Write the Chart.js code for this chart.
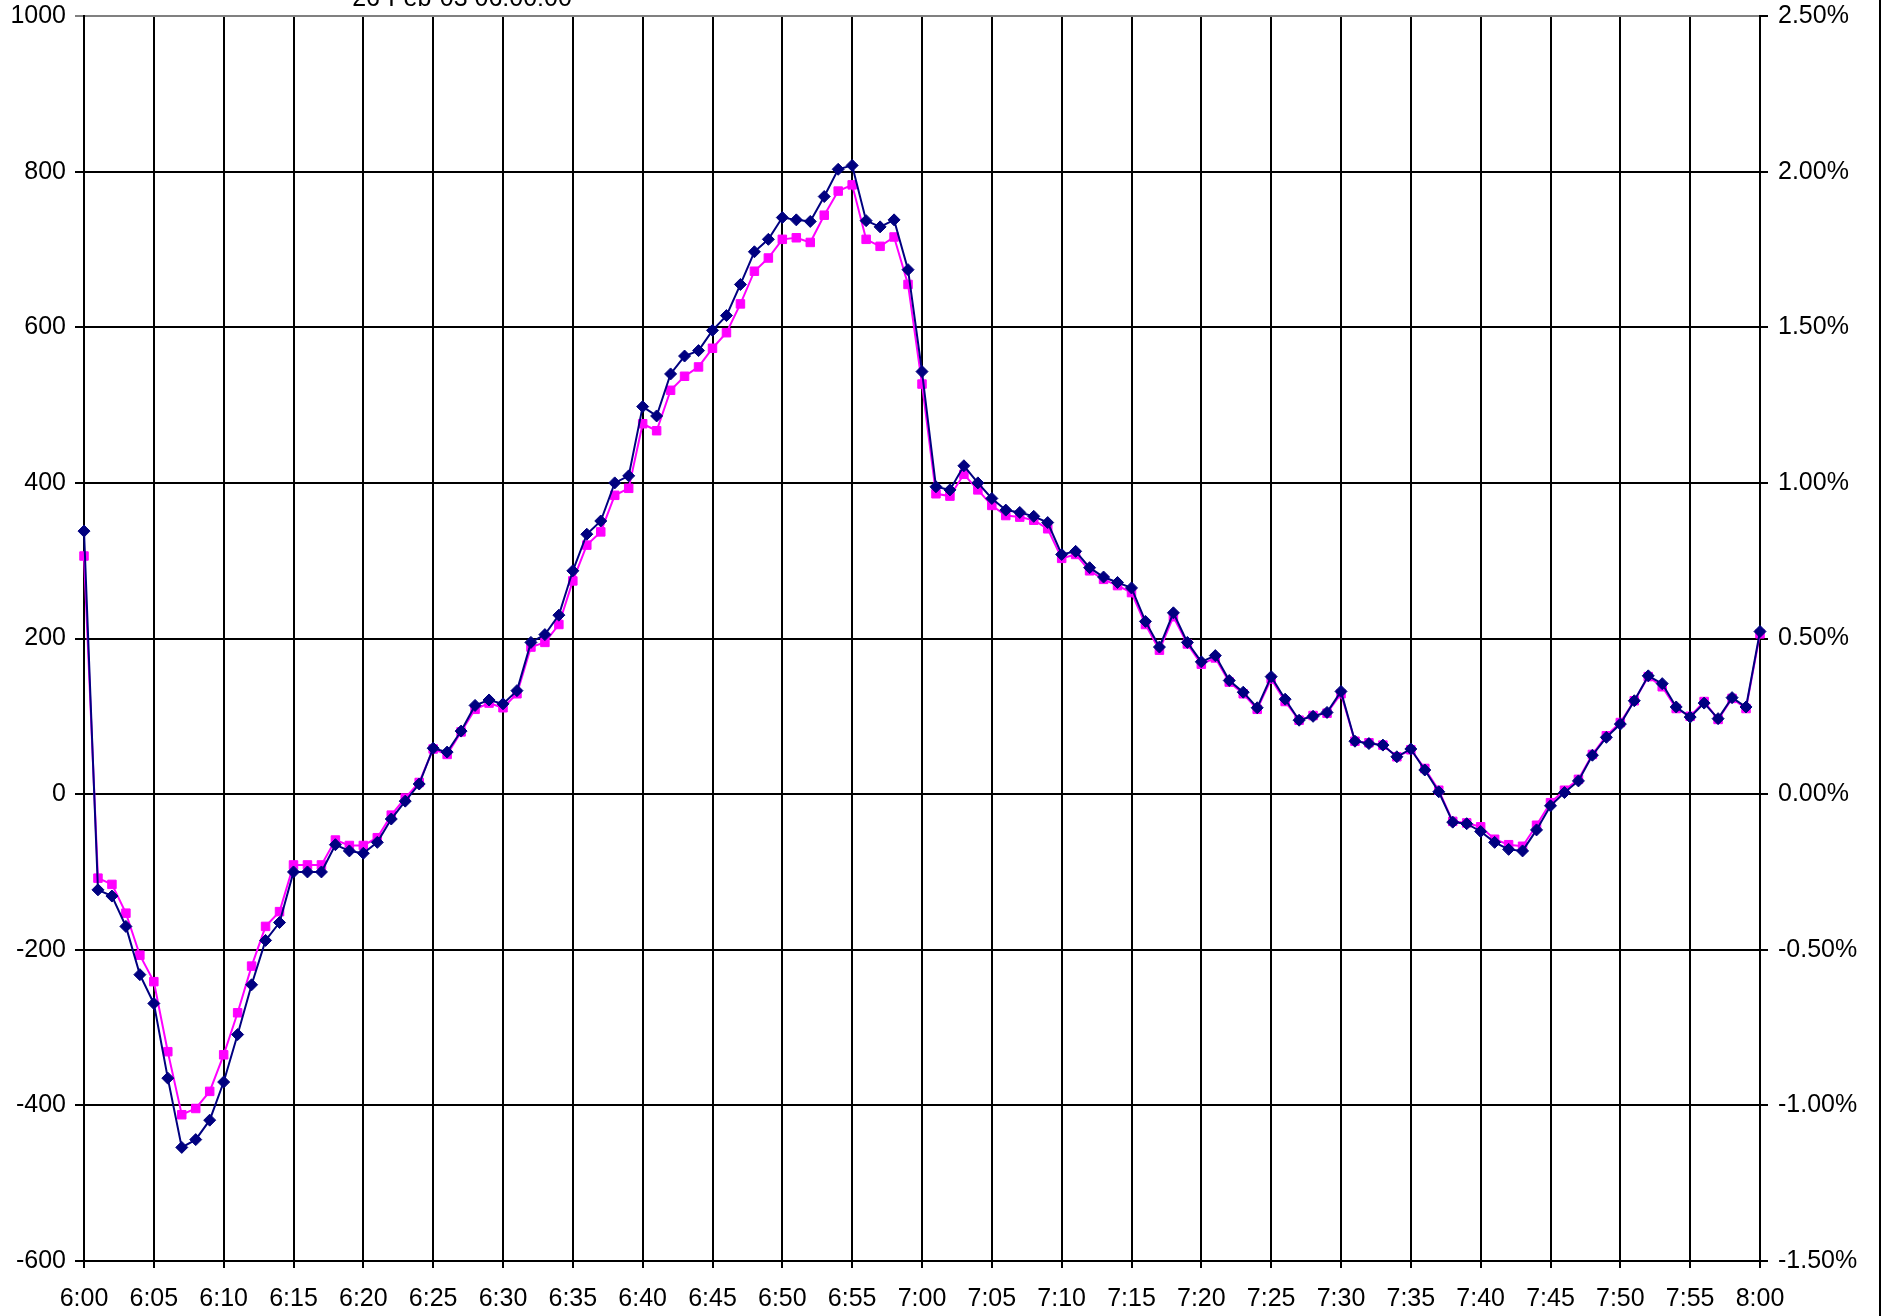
<!DOCTYPE html>
<html><head><meta charset="utf-8">
<script src="https://cdn.jsdelivr.net/npm/chart.js@4.4.1/dist/chart.umd.min.js"></script>
<style>
html,body{margin:0;padding:0;background:#fff;overflow:hidden}
#wrap{position:relative;width:1883px;height:1316px;overflow:hidden}
#title{position:absolute;left:462px;top:-15px;transform:translateX(-50%);font:25px "Liberation Sans",Arial,sans-serif;line-height:1;white-space:nowrap;color:#000}
#rb{position:absolute;left:1879px;top:0;width:2px;height:1316px;background:#000}
</style></head><body>
<div id="wrap"><canvas id="c" width="1883" height="1316"></canvas><div id="title">26-Feb-03 06:00:00</div><div id="rb"></div></div>
<script>
const categories = [
"6:00","6:01","6:02","6:03","6:04","6:05","6:06","6:07","6:08","6:09",
"6:10","6:11","6:12","6:13","6:14","6:15","6:16","6:17","6:18","6:19",
"6:20","6:21","6:22","6:23","6:24","6:25","6:26","6:27","6:28","6:29",
"6:30","6:31","6:32","6:33","6:34","6:35","6:36","6:37","6:38","6:39",
"6:40","6:41","6:42","6:43","6:44","6:45","6:46","6:47","6:48","6:49",
"6:50","6:51","6:52","6:53","6:54","6:55","6:56","6:57","6:58","6:59",
"7:00","7:01","7:02","7:03","7:04","7:05","7:06","7:07","7:08","7:09",
"7:10","7:11","7:12","7:13","7:14","7:15","7:16","7:17","7:18","7:19",
"7:20","7:21","7:22","7:23","7:24","7:25","7:26","7:27","7:28","7:29",
"7:30","7:31","7:32","7:33","7:34","7:35","7:36","7:37","7:38","7:39",
"7:40","7:41","7:42","7:43","7:44","7:45","7:46","7:47","7:48","7:49",
"7:50","7:51","7:52","7:53","7:54","7:55","7:56","7:57","7:58","7:59",
"8:00"];

const navySeries = [
338,-123,-131,-170,-232,-269,-365,-454,-444,-419,
-370,-309,-245,-188,-165,-100,-100,-100,-65,-73,
-76,-62,-32,-9,13,59,54,81,114,121,
116,133,195,205,230,287,334,351,400,409,
498,486,540,563,570,596,615,655,697,713,
741,738,736,768,803,808,737,729,738,674,
543,395,391,422,400,380,365,362,357,349,
308,312,291,279,272,265,222,189,233,195,
170,178,146,131,111,151,122,95,100,105,
132,68,65,63,48,58,31,3,-36,-38,
-48,-62,-71,-73,-46,-15,2,17,50,73,
90,120,152,142,112,99,117,97,124,112,
209];

const magentaSeries = [
306,-108,-116,-153,-207,-241,-331,-412,-404,-382,
-335,-281,-221,-170,-151,-91,-91,-91,-59,-66,
-66,-56,-27,-5,15,58,51,80,109,117,
111,129,189,195,218,274,320,337,384,393,
476,467,519,537,549,573,593,630,672,689,
713,715,709,744,775,783,713,704,716,655,
527,386,383,411,391,371,358,356,352,341,
303,308,287,276,268,259,218,185,228,193,
167,175,144,129,109,148,119,95,101,104,
129,68,66,63,48,57,33,5,-35,-37,
-42,-58,-65,-67,-40,-11,5,19,51,75,
92,120,151,138,110,100,119,96,123,110,
206];

const leftAxis = {min:-600, max:1000, step:200};
const rightAxis = {min:-1.5, max:2.5, step:0.5};
const labelEvery = 5;

const FONT = {family:'"Liberation Sans", Arial, sans-serif', size:25};
const toPoints = arr => arr.map((v,i)=>({x:i, y:v}));
const fixV = w => s => { s.width = w; s.paddingTop = 0; s.paddingBottom = 0; };

new Chart(document.getElementById('c'), {
  type:'line',
  data:{
    datasets:[
      {data:toPoints(navySeries), yAxisID:'y', borderColor:'#000080', backgroundColor:'#000080',
       borderWidth:2, pointStyle:'rectRot', pointRadius:6, pointBorderWidth:1,
       pointBorderColor:'#000080', pointBackgroundColor:'#000080', tension:0, clip:false},
      {data:toPoints(magentaSeries), yAxisID:'y', borderColor:'#FF00FF', backgroundColor:'#FF00FF',
       borderWidth:2, pointStyle:'rect', pointRadius:6, pointBorderWidth:1,
       pointBorderColor:'#FF00FF', pointBackgroundColor:'#FF00FF', tension:0, clip:false}
    ]
  },
  options:{
    responsive:false, animation:false, devicePixelRatio:1,
    layout:{padding:{top:16,left:0,right:0,bottom:0}},
    plugins:{legend:{display:false}, title:{display:false}, tooltip:{enabled:false}},
    events:[],
    scales:{
      x:{
        type:'linear', min:0, max:categories.length-1,
        grid:{tickLength:7, color:'#000', lineWidth:2},
        border:{color:'#000', width:2},
        ticks:{stepSize:labelEvery, autoSkip:false, maxRotation:0, minRotation:0, padding:16, color:'#000', font:FONT,
          callback:v=> categories[v]},
        afterFit:s=>{ s.height = 55; s.paddingLeft = 0; s.paddingRight = 0; }
      },
      y:{
        type:'linear', position:'left', min:leftAxis.min, max:leftAxis.max,
        ticks:{stepSize:leftAxis.step, padding:9, color:'#000', font:FONT, callback:v=>String(v)},
        grid:{tickLength:9, lineWidth:2,
          color:c=> (c.tick && c.tick.value === leftAxis.max) ? '#808080' : '#000'},
        border:{color:'#000', width:2},
        afterFit:fixV(84)
      },
      y2:{
        type:'linear', position:'right', min:rightAxis.min, max:rightAxis.max,
        ticks:{stepSize:rightAxis.step, padding:10, color:'#000', font:FONT,
          callback:v=> v.toFixed(2) + '%'},
        grid:{drawOnChartArea:false, tickLength:8, lineWidth:2, color:'#000'},
        border:{color:'#000', width:2},
        afterFit:fixV(123)
      }
    }
  }
});
</script>
</body></html>
